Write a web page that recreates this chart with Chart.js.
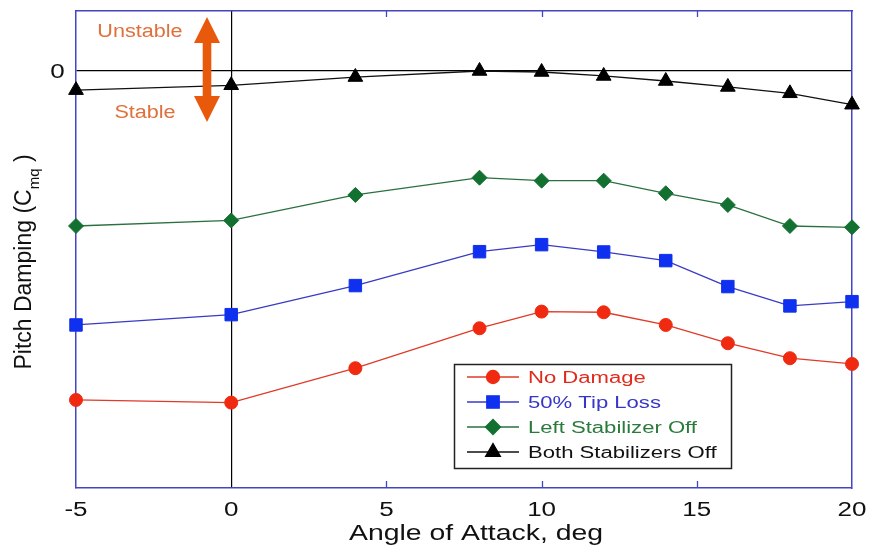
<!DOCTYPE html>
<html>
<head>
<meta charset="utf-8">
<script src="https://cdn.jsdelivr.net/npm/chart.js@4.4.1/dist/chart.umd.min.js"></script>
<style>
  html, body { margin: 0; padding: 0; background: #ffffff; }
  canvas { display: block; }
</style>
</head>
<body>
<canvas id="chart" width="870" height="547"></canvas>
<script>
// Angle of attack (deg) at which each configuration was measured
const angles = [-5, 0, 4, 8, 10, 12, 14, 16, 18, 20];

// Pitch damping coefficient Cmq per configuration
const noDamage      = [-3.322, -3.349, -3.002, -2.599, -2.431, -2.438, -2.566, -2.750, -2.901, -2.959];
const tipLoss50     = [-2.566, -2.462, -2.169, -1.827, -1.756, -1.830, -1.917, -2.179, -2.374, -2.331];
const leftStabOff   = [-1.568, -1.512, -1.255, -1.081, -1.111, -1.111, -1.238, -1.356, -1.568, -1.581];
const bothStabOff   = [-0.198, -0.149, -0.066, -0.005, -0.015, -0.055, -0.106, -0.166, -0.230, -0.345];

const seriesLabels = ['No Damage', '50% Tip Loss', 'Left Stabilizer Off', 'Both Stabilizers Off'];

// Axis ticks
const xTickValues = [-5, 0, 5, 10, 15, 20];
const yTickValues = [0];

const FONT = '"Liberation Sans", Arial, Helvetica, sans-serif';
const FRAME = '#4545c4';

const styles = [
  { line: '#e03a28', fill: '#f02a10', text: '#e02a1c', point: 'circle',   radius: 6.5 },
  { line: '#3a3ac4', fill: '#1030f0', text: '#3636c8', point: 'rect',     radius: 8.8 },
  { line: '#2a7040', fill: '#127030', text: '#2a7a3c', point: 'rectRot',  radius: 7.5 },
  { line: '#111111', fill: '#000000', text: '#111111', point: 'triangle', radius: 8.5 }
];
const seriesValues = [noDamage, tipLoss50, leftStabOff, bothStabOff];

const datasets = seriesValues.map((vals, i) => ({
  label: seriesLabels[i],
  data: angles.map((a, k) => ({ x: a, y: vals[k] })),
  borderColor: styles[i].line,
  backgroundColor: styles[i].fill,
  pointBackgroundColor: styles[i].fill,
  pointBorderColor: styles[i].fill,
  pointBorderWidth: 1,
  pointStyle: styles[i].point,
  pointRadius: styles[i].radius,
  borderWidth: 1.3,
  tension: 0,
  clip: false
}));

// Horizontally widened text
function wideText(ctx, text, x, y, size, color, sx, align) {
  ctx.save();
  ctx.translate(x, y);
  ctx.scale(sx, 1);
  ctx.font = size + 'px ' + FONT;
  ctx.fillStyle = color;
  ctx.textAlign = align || 'center';
  ctx.textBaseline = 'alphabetic';
  ctx.fillText(text, 0, 0);
  ctx.restore();
}

const decorations = {
  id: 'decorations',
  afterDraw(chart) {
    const ctx = chart.ctx;
    const xs = chart.scales.x, ys = chart.scales.y;
    const area = chart.chartArea;

    // inward tick marks on top and bottom edges
    ctx.save();
    ctx.strokeStyle = FRAME;
    ctx.lineWidth = 1.3;
    xs.ticks.forEach(t => {
      if (t.value <= -5 || t.value >= 20 || t.value === 0) return;
      const px = Math.round(xs.getPixelForValue(t.value)) + 0.5;
      ctx.beginPath();
      ctx.moveTo(px, area.bottom); ctx.lineTo(px, area.bottom - 7);
      ctx.moveTo(px, area.top); ctx.lineTo(px, area.top + 6);
      ctx.stroke();
    });
    ctx.restore();

    // x tick labels
    xs.ticks.forEach(t => {
      const px = xs.getPixelForValue(t.value);
      wideText(ctx, String(t.value), px, 515.5, 20, '#111', 1.3, 'center');
    });
    // y tick labels
    ys.ticks.forEach(t => {
      const py = ys.getPixelForValue(t.value);
      wideText(ctx, String(t.value), 57.5, py + 7, 20, '#111', 1.3, 'center');
    });

    // x axis title
    wideText(ctx, 'Angle of Attack, deg', 476, 540, 21.5, '#111', 1.32, 'center');

    // y axis title with subscript
    ctx.save();
    ctx.translate(31, 262);
    ctx.rotate(-Math.PI / 2);
    ctx.fillStyle = '#111';
    ctx.textBaseline = 'alphabetic';
    ctx.textAlign = 'left';
    const p1 = 'Pitch Damping (C', p2 = 'mq', p3 = ' )';
    ctx.font = '23px ' + FONT; const w1 = ctx.measureText(p1).width, w3 = ctx.measureText(p3).width;
    ctx.font = '15px ' + FONT; const w2 = ctx.measureText(p2).width;
    let sx = -(w1 + w2 + w3) / 2;
    ctx.font = '23px ' + FONT; ctx.fillText(p1, sx, 0);
    ctx.font = '15px ' + FONT; ctx.fillText(p2, sx + w1, 8);
    ctx.font = '23px ' + FONT; ctx.fillText(p3, sx + w1 + w2, 0);
    ctx.restore();

    // stability arrow
    const ax = 207, top = 17, bot = 122, hw = 13, hh = 26, sw = 4.3;
    ctx.save();
    ctx.fillStyle = '#e8590c';
    ctx.beginPath();
    ctx.moveTo(ax, top);
    ctx.lineTo(ax + hw, top + hh);
    ctx.lineTo(ax + sw, top + hh);
    ctx.lineTo(ax + sw, bot - hh);
    ctx.lineTo(ax + hw, bot - hh);
    ctx.lineTo(ax, bot);
    ctx.lineTo(ax - hw, bot - hh);
    ctx.lineTo(ax - sw, bot - hh);
    ctx.lineTo(ax - sw, top + hh);
    ctx.lineTo(ax - hw, top + hh);
    ctx.closePath();
    ctx.fill();
    ctx.restore();
    wideText(ctx, 'Unstable', 140, 36.5, 18, '#e0703c', 1.2, 'center');
    wideText(ctx, 'Stable', 145, 117.5, 18, '#e0703c', 1.2, 'center');

    // legend
    ctx.save();
    ctx.fillStyle = '#ffffff';
    ctx.fillRect(454.5, 364.5, 277, 104);
    ctx.strokeStyle = '#222';
    ctx.lineWidth = 1.5;
    ctx.strokeRect(454.5, 364.5, 277, 104);
    const rows = [377, 402, 427, 452];
    chart.data.datasets.forEach((ds, i) => {
      const ry = rows[i];
      ctx.strokeStyle = styles[i].line;
      ctx.lineWidth = 1.3;
      ctx.beginPath();
      ctx.moveTo(467, ry); ctx.lineTo(519, ry);
      ctx.stroke();
      ctx.fillStyle = styles[i].fill;
      ctx.strokeStyle = styles[i].fill;
      Chart.helpers.drawPoint(ctx, {
        pointStyle: styles[i].point, radius: styles[i].radius, rotation: 0, borderWidth: 1
      }, 493, ry);
      wideText(ctx, ds.label, 528, ry + 6, 16, styles[i].text, 1.38, 'left');
    });
    ctx.restore();
  }
};

new Chart(document.getElementById('chart'), {
  type: 'line',
  data: { datasets },
  plugins: [decorations],
  options: {
    responsive: false,
    animation: false,
    devicePixelRatio: 1,
    layout: { padding: { left: 76, top: 11, right: 18, bottom: 59 } },
    plugins: { legend: { display: false }, tooltip: { enabled: false } },
    scales: {
      x: {
        type: 'linear', position: 'bottom', min: -5, max: 20,
        afterBuildTicks: s => { s.ticks = xTickValues.map(v => ({ value: v })); },
        ticks: { display: false },
        grid: {
          drawTicks: false,
          lineWidth: 1.2,
          color: c => (c.tick && c.tick.value === 0) ? '#000000' : 'rgba(0,0,0,0)'
        },
        border: { display: true, color: FRAME, width: 1.5 }
      },
      y: {
        type: 'linear', position: 'left', min: -4.21, max: 0.6,
        afterBuildTicks: s => { s.ticks = yTickValues.map(v => ({ value: v })); },
        ticks: { display: false },
        grid: {
          drawTicks: false,
          lineWidth: 1.2,
          color: c => (c.tick && c.tick.value === 0) ? '#000000' : 'rgba(0,0,0,0)'
        },
        border: { display: true, color: FRAME, width: 1.5 }
      },
      xTop: {
        type: 'linear', position: 'top', min: -5, max: 20,
        ticks: { display: false },
        grid: { display: false, drawTicks: false },
        border: { display: true, color: FRAME, width: 1.5 }
      },
      yRight: {
        type: 'linear', position: 'right', min: -4.21, max: 0.6,
        ticks: { display: false },
        grid: { display: false, drawTicks: false },
        border: { display: true, color: FRAME, width: 1.5 }
      }
    }
  }
});
</script>
</body>
</html>
